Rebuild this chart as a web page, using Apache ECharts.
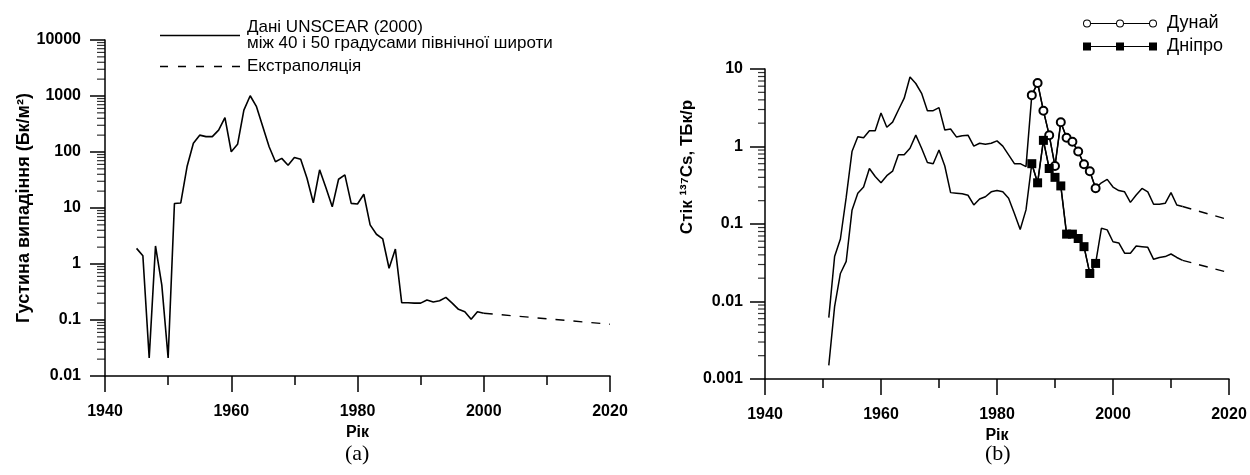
<!DOCTYPE html>
<html><head><meta charset="utf-8">
<script src="https://cdn.jsdelivr.net/npm/echarts@6/dist/echarts.min.js"></script>
<style>html,body{margin:0;padding:0;background:#fff}#c{width:1250px;height:475px}</style>
</head><body><div id="c"></div><script>
// ---------- Panel (a) data ----------
const yearsA = [1945,1946,1947,1948,1949,1950,1951,1952,1953,1954,1955,1956,1957,1958,1959,1960,1961,1962,1963,1964,1965,1966,1967,1968,1969,1970,1971,1972,1973,1974,1975,1976,1977,1978,1979,1980,1981,1982,1983,1984,1985,1986,1987,1988,1989,1990,1991,1992,1993,1994,1995,1996,1997,1998,1999,2000];
const depositA = [1.9,1.4,0.021,2.1,0.42,0.021,12,12.3,55,143,200,188,188,246,410,101,137,560,1010,645,283,124,67,77,58,80,74,34,12.4,48,23,10.5,32.6,39,12.1,11.8,17.6,5.0,3.4,2.8,0.84,1.85,0.204,0.203,0.2,0.2,0.227,0.21,0.22,0.254,0.2,0.155,0.14,0.103,0.14,0.132];
const extYearsA = [2000, 2020];
const extValsA = [0.132, 0.084];

// ---------- Panel (b) data ----------
const yearsB = [1951,1952,1953,1954,1955,1956,1957,1958,1959,1960,1961,1962,1963,1964,1965,1966,1967,1968,1969,1970,1971,1972,1973,1974,1975,1976,1977,1978,1979,1980,1981,1982,1983,1984,1985,1986,1987,1988,1989,1990,1991,1992,1993,1994,1995,1996,1997,1998,1999,2000,2001,2002,2003,2004,2005,2006,2007,2008,2009,2010,2011,2012];
const upperEarly = [0.0062,0.038,0.064,0.22,0.86,1.34,1.3,1.6,1.6,2.7,1.77,2.06,2.96,4.2,7.9,6.5,4.85,2.9,2.9,3.17,1.63,1.68,1.33,1.38,1.4,1.01,1.1,1.07,1.1,1.18,1.01,0.78,0.6,0.6,0.55];
const lowerEarly = [0.0015,0.0086,0.023,0.033,0.15,0.25,0.30,0.52,0.41,0.34,0.42,0.48,0.78,0.78,0.95,1.4,0.95,0.62,0.6,0.9,0.56,0.254,0.25,0.245,0.235,0.176,0.21,0.225,0.26,0.27,0.26,0.215,0.137,0.085,0.152];
const riverYears = [1986,1987,1988,1989,1990,1991,1992,1993,1994,1995,1996,1997];
const danube = [4.6,6.6,2.9,1.4,0.56,2.05,1.3,1.15,0.86,0.59,0.48,0.29];
const dnipro = [0.6,0.34,1.2,0.52,0.40,0.31,0.074,0.074,0.065,0.051,0.023,0.031];
const upperLate = [0.34,0.377,0.30,0.27,0.26,0.19,0.237,0.288,0.26,0.18,0.18,0.185,0.254,0.176,0.168];
const lowerLate = [0.088,0.084,0.059,0.057,0.042,0.042,0.052,0.051,0.05,0.035,0.037,0.038,0.041,0.037,0.034];
const extYearsB = [2012, 2020];
const upperExt = [0.168, 0.113];
const lowerExt = [0.034, 0.0235];

// tick labels / axis settings
const xTicks = [1940, 1960, 1980, 2000, 2020];
const minorMult = [2,3,4,5,6,7,8,9];

const zip = (xs, ys) => xs.map((x, i) => [x, ys[i]]);
const upperModel = upperEarly.concat(danube, upperLate);
const lowerModel = lowerEarly.concat(dnipro, lowerLate);

const F = 'Liberation Sans, Arial, sans-serif';
const axisLineStyle = {color: '#000', width: 1.5};
const plainNum = v => String(v);

function minorTickData(lo, hi) {
  const out = [];
  for (let e = lo; e < hi; e++) for (const m of minorMult) out.push([xTicks[0], m * Math.pow(10, e)]);
  return out;
}
function minorTickSeries(xi, yi, lo, hi, len) {
  return {
    type: 'scatter', xAxisIndex: xi, yAxisIndex: yi, clip: false, silent: true, z: 5,
    data: minorTickData(lo, hi), symbol: 'rect', symbolSize: [len, 1.2], symbolOffset: [-len / 2, 0],
    itemStyle: {color: '#000'}
  };
}

function xAxisDef(gi) {
  return {
    type: 'value', gridIndex: gi, min: xTicks[0], max: xTicks[xTicks.length - 1], interval: 20,
    name: 'Рік', nameLocation: 'middle', nameGap: 44,
    nameTextStyle: {fontFamily: F, fontWeight: 'bold', fontSize: 16, color: '#000'},
    axisLine: {lineStyle: axisLineStyle},
    axisTick: {show: true, length: 16, lineStyle: {color: '#000', width: 1.5}},
    minorTick: {show: true, splitNumber: 2, length: 9, lineStyle: {color: '#000', width: 1.5}},
    axisLabel: {margin: 28, formatter: plainNum, fontFamily: F, fontWeight: 'bold', fontSize: 16, color: '#000'},
    splitLine: {show: false}, minorSplitLine: {show: false}
  };
}

const solidIcon = 'path://M0,0L80,0L80,1.6L0,1.6Z';
const dashIcon = 'path://M0,0L8,0L8,1.6L0,1.6ZM18,0L26,0L26,1.6L18,1.6ZM36,0L44,0L44,1.6L36,1.6ZM54,0L62,0L62,1.6L54,1.6ZM72,0L80,0L80,1.6L72,1.6Z';
const danubeIcon = 'path://M0,4A4,4 0 1,1 8,4A4,4 0 1,1 0,4ZM1,4A3,3 0 1,0 7,4A3,3 0 1,0 1,4Z' +
  'M33,4A4,4 0 1,1 41,4A4,4 0 1,1 33,4ZM34,4A3,3 0 1,0 40,4A3,3 0 1,0 34,4Z' +
  'M66,4A4,4 0 1,1 74,4A4,4 0 1,1 66,4ZM67,4A3,3 0 1,0 73,4A3,3 0 1,0 67,4Z' +
  'M8,3.5L33,3.5L33,4.5L8,4.5ZM41,3.5L66,3.5L66,4.5L41,4.5Z';
const dniproIcon = 'path://M0,0L8,0L8,8L0,8ZM33,0L41,0L41,8L33,8ZM66,0L74,0L74,8L66,8Z' +
  'M8,3.4L33,3.4L33,4.6L8,4.6ZM41,3.4L66,3.4L66,4.6L41,4.6Z';

const nameA = 'Дані UNSCEAR (2000)\nміж 40 і 50 градусами північної широти';

const chart = echarts.init(document.getElementById('c'), null, {renderer: 'canvas'});
chart.setOption({
  animation: false,
  backgroundColor: '#fff',
  grid: [
    {left: 105, top: 40, width: 505, height: 336},
    {left: 765, top: 69, width: 464, height: 310}
  ],
  xAxis: [xAxisDef(0), xAxisDef(1)],
  yAxis: [
    {
      type: 'log', logBase: 10, gridIndex: 0, min: 0.01, max: 10000, splitNumber: 6,
      name: 'Густина випадіння (Бк/м²)', nameLocation: 'middle', nameGap: 70,
      nameTextStyle: {fontFamily: F, fontWeight: 'bold', fontSize: 18, color: '#000'},
      axisLine: {show: true, lineStyle: axisLineStyle},
      axisTick: {show: true, length: 15, lineStyle: {color: '#000', width: 1.5}},
      axisLabel: {margin: 24, formatter: plainNum, fontFamily: F, fontWeight: 'bold', fontSize: 16, color: '#000'},
      splitLine: {show: false}
    },
    {
      type: 'log', logBase: 10, gridIndex: 1, min: 0.001, max: 10, splitNumber: 4,
      name: 'Стік ¹³⁷Cs, ТБк/р', nameLocation: 'middle', nameGap: 69,
      nameTextStyle: {fontFamily: F, fontWeight: 'bold', fontSize: 17, color: '#000', padding: [0, 0, 0, 114]},
      axisLine: {show: true, lineStyle: axisLineStyle},
      axisTick: {show: true, length: 15, lineStyle: {color: '#000', width: 1.5}},
      axisLabel: {margin: 22, formatter: plainNum, fontFamily: F, fontWeight: 'bold', fontSize: 16, color: '#000'},
      splitLine: {show: false}
    }
  ],
  legend: [
    {
      orient: 'vertical', left: 160, top: 19, padding: 0, itemWidth: 80, itemHeight: 2, itemGap: 6,
      data: [
        {name: nameA, icon: solidIcon, itemStyle: {color: '#000', borderWidth: 0}},
        {name: 'Екстраполяція', icon: dashIcon, itemStyle: {color: '#000', borderWidth: 0}}
      ],
      textStyle: {fontFamily: F, fontSize: 17, lineHeight: 16, color: '#000', padding: [0, 0, 0, 2]},
      selectedMode: false
    },
    {
      orient: 'vertical', left: 1083, top: 13, padding: 0, itemWidth: 74, itemHeight: 8, itemGap: 2,
      data: [
        {name: 'Дунай', icon: danubeIcon, itemStyle: {color: '#000', borderWidth: 0}},
        {name: 'Дніпро', icon: dniproIcon, itemStyle: {color: '#000', borderWidth: 0}}
      ],
      textStyle: {fontFamily: F, fontSize: 18, lineHeight: 21, color: '#000', padding: [0, 0, 0, 5]},
      selectedMode: false
    }
  ],
  series: [
    {
      name: nameA, type: 'line',
      xAxisIndex: 0, yAxisIndex: 0, symbol: 'none', data: zip(yearsA, depositA),
      lineStyle: {color: '#000', width: 1.6}, itemStyle: {color: '#000'}
    },
    {
      name: 'Екстраполяція', type: 'line', xAxisIndex: 0, yAxisIndex: 0, symbol: 'none',
      data: zip(extYearsA, extValsA),
      lineStyle: {color: '#000', width: 1.4, type: [9, 9]}, itemStyle: {color: '#000'}
    },
    minorTickSeries(0, 0, -2, 4, 8),
    {
      name: 'model-upper', type: 'line', xAxisIndex: 1, yAxisIndex: 1, symbol: 'none',
      data: zip(yearsB, upperModel), lineStyle: {color: '#000', width: 1.5}, itemStyle: {color: '#000'}
    },
    {
      name: 'model-lower', type: 'line', xAxisIndex: 1, yAxisIndex: 1, symbol: 'none',
      data: zip(yearsB, lowerModel), lineStyle: {color: '#000', width: 1.5}, itemStyle: {color: '#000'}
    },
    {
      name: 'ext-upper', type: 'line', xAxisIndex: 1, yAxisIndex: 1, symbol: 'none',
      data: zip(extYearsB, upperExt), lineStyle: {color: '#000', width: 1.4, type: [9, 8]}
    },
    {
      name: 'ext-lower', type: 'line', xAxisIndex: 1, yAxisIndex: 1, symbol: 'none',
      data: zip(extYearsB, lowerExt), lineStyle: {color: '#000', width: 1.4, type: [9, 8]}
    },
    {
      name: 'Дунай', type: 'line', xAxisIndex: 1, yAxisIndex: 1, z: 4,
      symbol: 'emptyCircle', symbolSize: 8, data: zip(riverYears, danube),
      lineStyle: {color: '#000', width: 1.3}, itemStyle: {color: '#000', borderWidth: 1}
    },
    {
      name: 'Дніпро', type: 'line', xAxisIndex: 1, yAxisIndex: 1, z: 4,
      symbol: 'rect', symbolSize: 9, data: zip(riverYears, dnipro),
      lineStyle: {color: '#000', width: 1.3}, itemStyle: {color: '#000'}
    },
    minorTickSeries(1, 1, -3, 1, 7)
  ],
  graphic: [
    {type: 'text', left: 345, top: 443, style: {text: '(a)', font: '22px "Liberation Serif", "Times New Roman", serif', fill: '#000'}},
    {type: 'text', left: 985, top: 443, style: {text: '(b)', font: '22px "Liberation Serif", "Times New Roman", serif', fill: '#000'}}
  ]
});
</script></body></html>
